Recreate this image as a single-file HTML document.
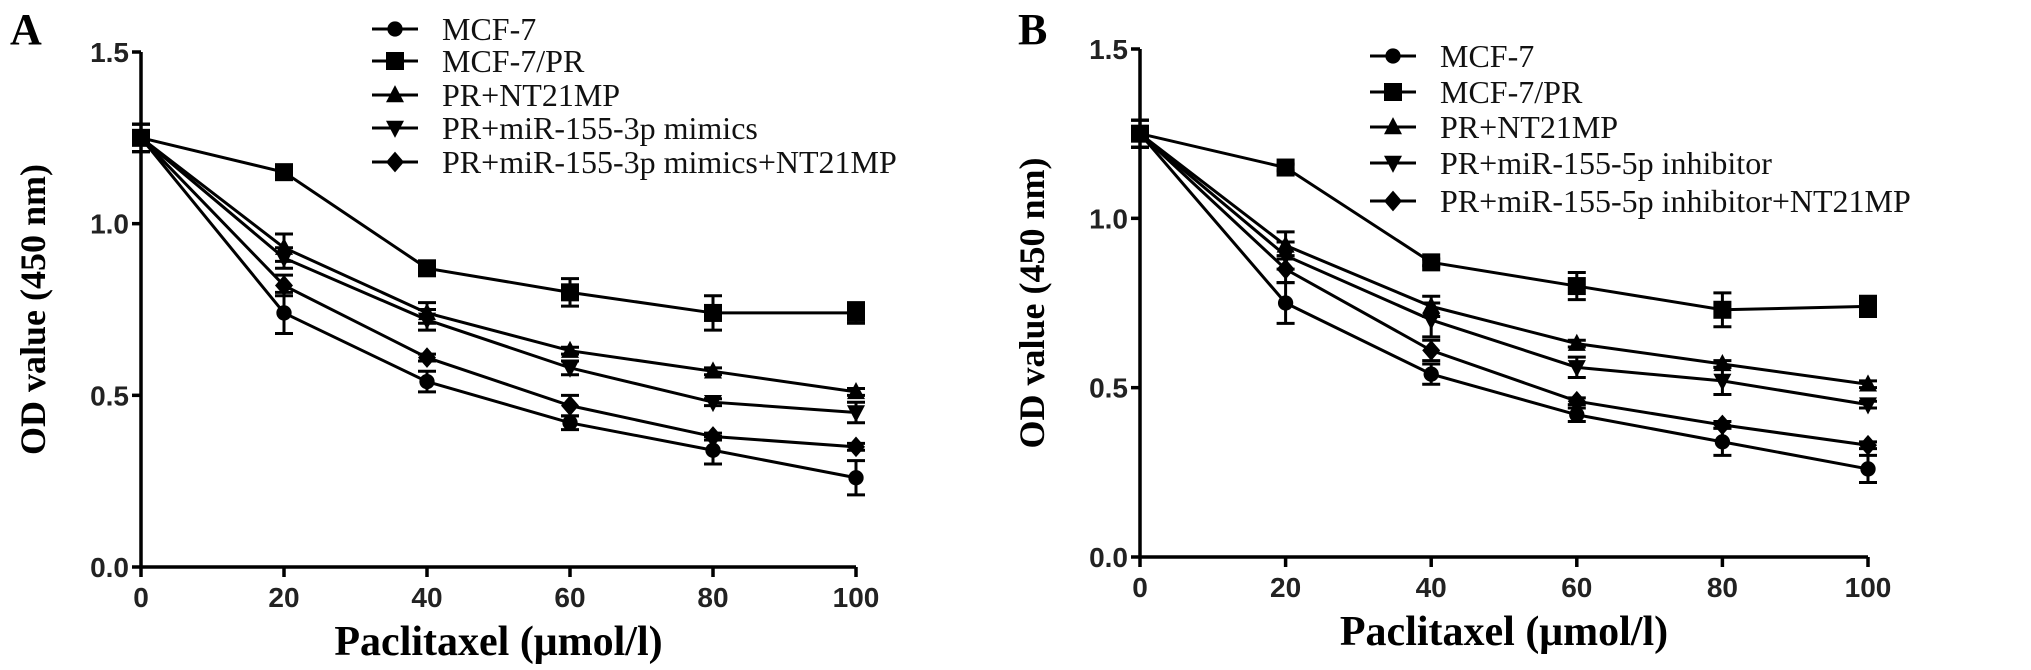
<!DOCTYPE html>
<html><head><meta charset="utf-8"><style>
html,body{margin:0;padding:0;background:#fff;}
svg{display:block;}
</style></head><body>
<svg id="fig" width="2031" height="670" xmlns="http://www.w3.org/2000/svg"></svg>
<script>
const xTicks=[0,20,40,60,80,100];
const yTicks=[0,0.5,1.0,1.5];
const yTickLabels=["0.0","0.5","1.0","1.5"];
const seriesNamesA=["MCF-7","MCF-7/PR","PR+NT21MP","PR+miR-155-3p mimics","PR+miR-155-3p mimics+NT21MP"];
const seriesNamesB=["MCF-7","MCF-7/PR","PR+NT21MP","PR+miR-155-5p inhibitor","PR+miR-155-5p inhibitor+NT21MP"];
const markers=["circle","square","tri","dtri","diamond"];
const a_mcf7=[1.25,0.74,0.54,0.42,0.34,0.26];
const a_pr=[1.25,1.15,0.87,0.80,0.74,0.74];
const a_nt=[1.25,0.93,0.74,0.63,0.57,0.51];
const a_mim=[1.25,0.90,0.72,0.58,0.48,0.45];
const a_mimnt=[1.25,0.82,0.61,0.47,0.38,0.35];
const a_err_mcf7=[0.04,0.06,0.03,0.02,0.04,0.05];
const a_err_pr=[0.04,0.01,0.01,0.04,0.05,0.03];
const a_err_nt=[0.04,0.04,0.03,0.01,0.01,0.01];
const a_err_mim=[0.04,0.03,0.03,0.02,0.01,0.03];
const a_err_mimnt=[0.04,0.03,0.01,0.03,0.01,0.01];
const b_mcf7=[1.25,0.75,0.54,0.42,0.34,0.26];
const b_pr=[1.25,1.15,0.87,0.80,0.73,0.74];
const b_nt=[1.25,0.92,0.74,0.63,0.57,0.51];
const b_inh=[1.25,0.89,0.70,0.56,0.52,0.45];
const b_inhnt=[1.25,0.85,0.61,0.46,0.39,0.33];
const b_err_mcf7=[0.04,0.06,0.03,0.02,0.04,0.04];
const b_err_pr=[0.04,0.01,0.01,0.04,0.05,0.03];
const b_err_nt=[0.04,0.04,0.03,0.01,0.01,0.01];
const b_err_inh=[0.04,0.04,0.05,0.03,0.04,0.01];
const b_err_inhnt=[0.04,0.04,0.03,0.01,0.01,0.01];

const NS="http://www.w3.org/2000/svg";
const svg=document.getElementById('fig');
function el(tag,attrs,parent,text){const e=document.createElementNS(NS,tag);for(const k in attrs)e.setAttribute(k,attrs[k]);if(text!==undefined)e.textContent=text;(parent||svg).appendChild(e);return e;}

function marker(g,type,cx,cy,s){
  let m;
  if(type==="circle")m=el('circle',{cx:cx,cy:cy,r:s*0.85,fill:'#000'},g);
  else if(type==="square")m=el('rect',{x:cx-s,y:cy-s,width:2*s,height:2*s,fill:'#000'},g);
  else if(type==="tri")m=el('polygon',{points:`${cx},${cy-s*1.1} ${cx-s},${cy+s*0.8} ${cx+s},${cy+s*0.8}`,fill:'#000'},g);
  else if(type==="dtri")m=el('polygon',{points:`${cx},${cy+s*1.1} ${cx-s},${cy-s*0.8} ${cx+s},${cy-s*0.8}`,fill:'#000'},g);
  else m=el('polygon',{points:`${cx},${cy-s*1.15} ${cx+s},${cy} ${cx},${cy+s*1.15} ${cx-s},${cy}`,fill:'#000'},g);
  return m;
}

function panel(cfg){
  const P=el('g',{});
  
  
  const xs=v=>cfg.x0+(v/100)*(cfg.x100-cfg.x0);
  const ys=v=>cfg.y0+(v/1.5)*(cfg.y15-cfg.y0);
  const lbl=el('text',{x:cfg.labX,y:44,'font-family':'Liberation Serif, serif','font-weight':'bold','font-size':44},P,cfg.id.toUpperCase());
  
  const ax=el('g',{stroke:'#000','stroke-width':3.5},P);
  
  el('line',{x1:cfg.x0,y1:ys(1.5),x2:cfg.x0,y2:cfg.y0},ax);
  el('line',{x1:cfg.x0,y1:cfg.y0,x2:xs(100),y2:cfg.y0},ax);
  yTicks.forEach((t,i)=>{
    el('line',{x1:cfg.x0-9,y1:ys(t),x2:cfg.x0,y2:ys(t)},ax);
    const tl=el('text',{x:cfg.x0-12,y:ys(t)+10,'text-anchor':'end','font-family':'Liberation Sans, sans-serif','font-weight':'bold','font-size':28,fill:'#222'},P,yTickLabels[i]);
    
  });
  xTicks.forEach(t=>{
    el('line',{x1:xs(t),y1:cfg.y0,x2:xs(t),y2:cfg.y0+10},ax);
    const tl=el('text',{x:xs(t),y:cfg.y0+40,'text-anchor':'middle','font-family':'Liberation Sans, sans-serif','font-weight':'bold','font-size':28,fill:'#222'},P,String(t));
    
  });
  const yt=el('text',{x:0,y:0,transform:`translate(${cfg.x0-96},${(ys(1.5)+cfg.y0)/2}) rotate(-90)`,'text-anchor':'middle','font-family':'Liberation Serif, serif','font-weight':'bold','font-size':36},P,'OD value (450 nm)');
  
  const xt=el('text',{x:(cfg.x0+xs(100))/2,y:cfg.y0+88,'text-anchor':'middle','font-family':'Liberation Serif, serif','font-weight':'bold','font-size':42},P,'Paclitaxel (\u03bcmol/l)');
  
  cfg.series.forEach((vals,si)=>{
    const g=el('g',{},P);
    
    
    const pts=vals.map((v,i)=>xs(xTicks[i])+','+ys(v)).join(' ');
    el('polyline',{points:pts,fill:'none',stroke:'#000','stroke-width':3},g);
    vals.forEach((v,i)=>{
      const e=cfg.errs[si][i];const x=xs(xTicks[i]);
      el('line',{x1:x,y1:ys(v+e),x2:x,y2:ys(v-e),stroke:'#000','stroke-width':3},g);
      el('line',{x1:x-9,y1:ys(v+e),x2:x+9,y2:ys(v+e),stroke:'#000','stroke-width':3},g);
      el('line',{x1:x-9,y1:ys(v-e),x2:x+9,y2:ys(v-e),stroke:'#000','stroke-width':3},g);
      const m=marker(g,markers[si],x,ys(v),9);
      
      
    });
  });
  const lg=el('g',{},P);
  
  cfg.names.forEach((n,i)=>{
    const y=cfg.legY[i];
    const row=el('g',{},lg);
    
    el('line',{x1:cfg.legX,y1:y,x2:cfg.legX+46,y2:y,stroke:'#000','stroke-width':3},row);
    marker(row,markers[i],cfg.legX+23,y,9);
    el('text',{x:cfg.legX+cfg.legGap,y:y+11,'font-family':'Liberation Serif, serif','font-size':cfg.legFont,fill:'#111'},row,n);
  });
}
panel({id:'a',x0:141,x100:856,y0:567,y15:52,labX:10,
  series:[a_mcf7,a_pr,a_nt,a_mim,a_mimnt],errs:[a_err_mcf7,a_err_pr,a_err_nt,a_err_mim,a_err_mimnt],
  names:seriesNamesA,legX:372,legGap:70,legY:[29,61,95,128,162],legFont:32});
panel({id:'b',x0:1140,x100:1868,y0:557,y15:49,labX:1018,
  series:[b_mcf7,b_pr,b_nt,b_inh,b_inhnt],errs:[b_err_mcf7,b_err_pr,b_err_nt,b_err_inh,b_err_inhnt],
  names:seriesNamesB,legX:1370,legGap:70,legY:[56,92,127,163,201],legFont:32});
</script>
</body></html>
